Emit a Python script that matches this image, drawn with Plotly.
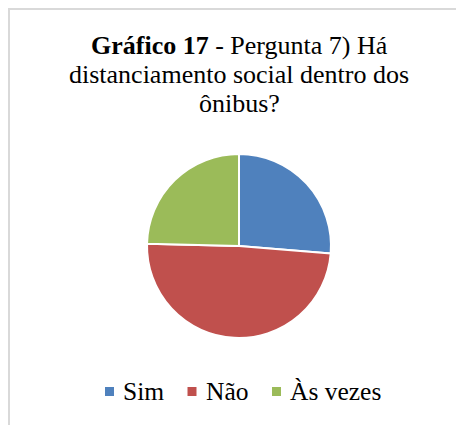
import plotly.graph_objects as go

# === Survey answers (share of respondents, %)
labels = ["Sim", "Não", "Às vezes"]
values = [26.3, 49.1, 24.6]
colors = ["#4f81bd", "#c0504d", "#9bbb59"]

title_lines = [
    "<b>Gráfico 17</b> - Pergunta 7) Há",
    "distanciamento social dentro dos",
    "ônibus?",
]

W, H = 464, 425
OFF = 8  # page body margin
serif = "Liberation Serif"

# layout (page pixels)
cx, cy, r = 239 - OFF, 246 - OFF, 92
title_x, title_y0, title_step = 239 - OFF, 45.5 - OFF, 29
leg_x = [105 - OFF, 187.5 - OFF, 272 - OFF]
leg_y, leg_box, leg_gap = 391.5 - OFF, 9, 7


def px(x):
    return x / W


def py(y):
    return 1 - y / H


fig = go.Figure(go.Pie(
    labels=labels,
    values=values,
    sort=False,
    direction="clockwise",
    rotation=0,
    textinfo="none",
    showlegend=False,
    marker=dict(colors=colors, line=dict(color="white", width=2)),
    domain=dict(x=[px(cx - r), px(cx + r)], y=[py(cy + r), py(cy - r)]),
))

# chart frame (only top and left edges fall inside the crop)
fig.add_shape(type="path", xref="paper", yref="paper",
              path=f"M {px(1)},0 L {px(1)},{py(1)} L 1,{py(1)}",
              line=dict(color="#d9d9d9", width=2))

# title, one annotation per line to keep Office-like line spacing
for i, line in enumerate(title_lines):
    fig.add_annotation(
        text=line, xref="paper", yref="paper",
        x=px(title_x), y=py(title_y0 + i * title_step),
        xanchor="center", yanchor="middle", showarrow=False,
        font=dict(family=serif, size=26, color="black"),
    )

# legend drawn by hand: small square + label
for lab, col, x in zip(labels, colors, leg_x):
    fig.add_shape(type="rect", xref="paper", yref="paper",
                  x0=px(x), x1=px(x + leg_box),
                  y0=py(leg_y + leg_box / 2), y1=py(leg_y - leg_box / 2),
                  fillcolor=col, line=dict(width=0))
    fig.add_annotation(
        text=lab, xref="paper", yref="paper",
        x=px(x + leg_box + leg_gap), y=py(leg_y),
        xanchor="left", yanchor="middle", showarrow=False,
        font=dict(family=serif, size=25.5, color="black"),
    )

fig.update_layout(
    width=W, height=H,
    margin=dict(l=0, r=0, t=0, b=0),
    paper_bgcolor="white",
    plot_bgcolor="white",
    font=dict(family=serif),
)

fig.write_html("out.html")
